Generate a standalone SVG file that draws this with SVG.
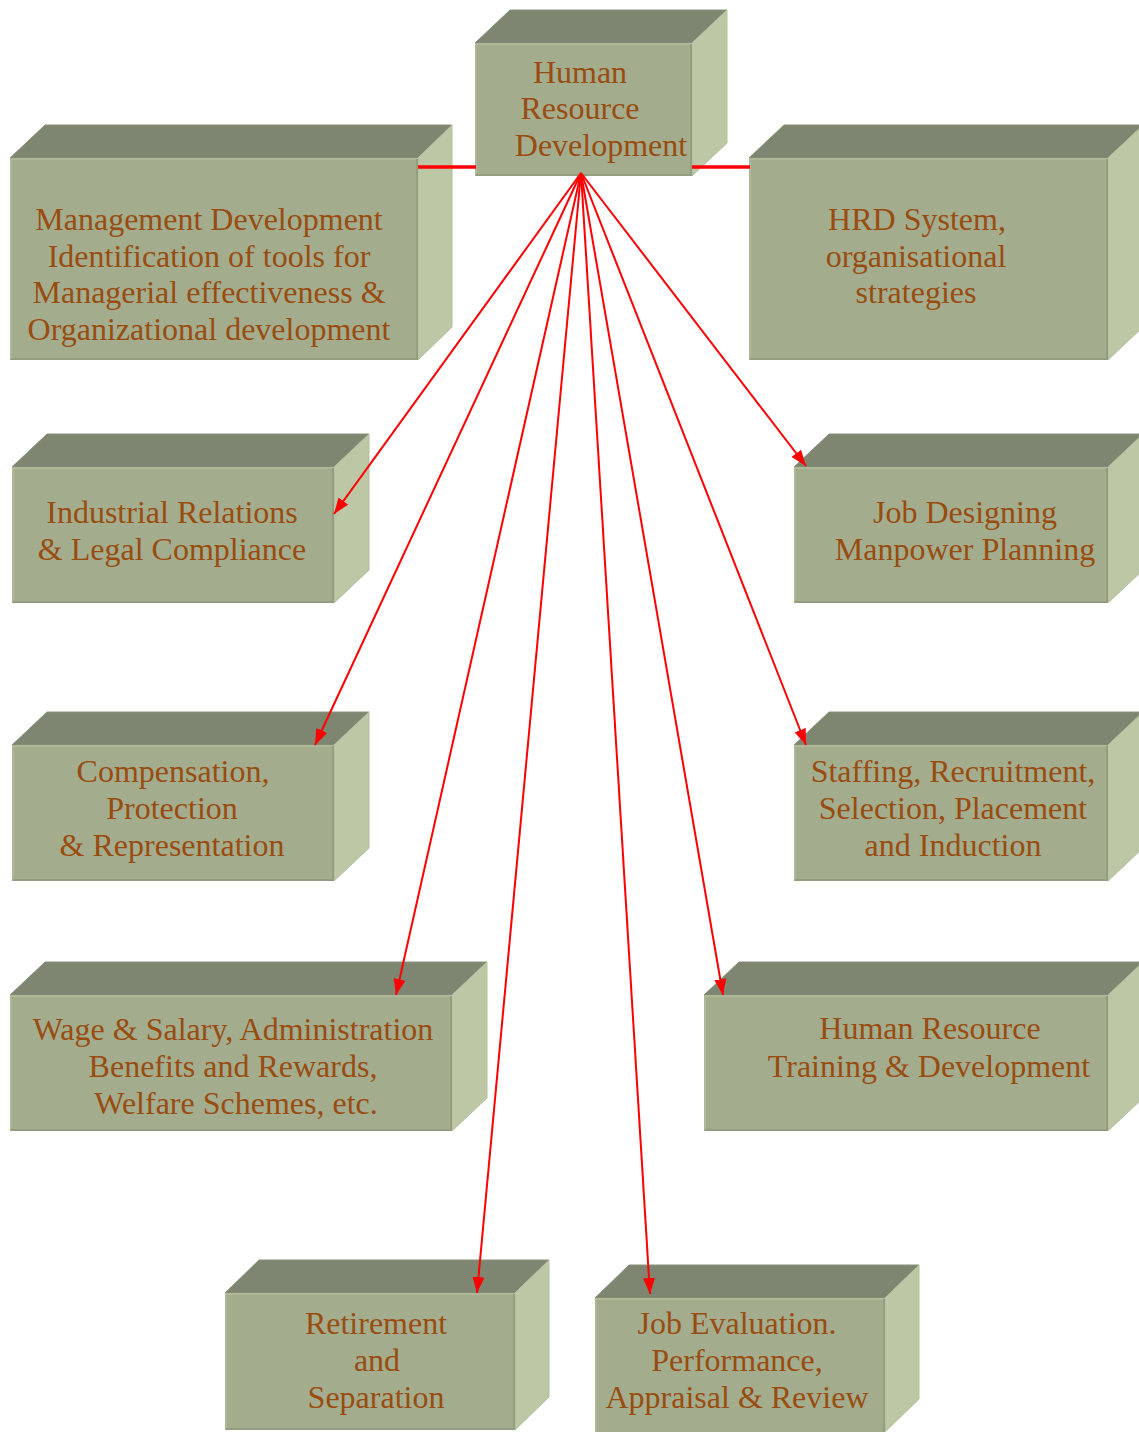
<svg xmlns="http://www.w3.org/2000/svg" width="1139" height="1432" viewBox="0 0 1139 1432">
  <defs>
    <style>
      .top { fill: #7e8570; stroke: #8a9179; stroke-width: 1; }
      .side { fill: #bcc7a5; stroke: #b3be9c; stroke-width: 1; }
      .front { fill: #a3ad8e; }
      .edge-lo { stroke: #939e80; stroke-width: 2; fill: none; }
      .edge-hi { stroke: #b2bc9d; stroke-width: 1.5; fill: none; }
      .label { font-family: "Liberation Serif", "Times New Roman", serif; font-size: 32px; fill: #994c10; text-anchor: middle; }
      .link { stroke: #ff0000; stroke-width: 2; fill: none; }
      .bar { stroke: #ff0000; stroke-width: 3.5; fill: none; }
    </style>
    <marker id="arrow" markerUnits="userSpaceOnUse" markerWidth="16" markerHeight="12" refX="16" refY="6" orient="auto">
      <path d="M0,0 L16,6 L0,12 z" fill="#ff0000"/>
    </marker>
  </defs>

  <rect width="1139" height="1432" fill="#ffffff"/>

  <!-- central node -->
  <g id="node-hrd">
    <polygon class="top" points="475,43 510,10 727,10 692,43"/>
    <polygon class="side" points="692,43 727,10 727,143 692,176"/>
    <rect class="front" x="475" y="43" width="217" height="133"/>
    <polyline class="edge-hi" points="476,175 476,44 692,44"/>
    <polyline class="edge-lo" points="476,175 691,175 691,44"/>
    <text class="label" x="580" y="83">Human</text>
    <text class="label" x="580" y="119">Resource</text>
    <text class="label" x="601" y="156">Development</text>
  </g>

  <g id="node-management">
    <polygon class="top" points="10,158 45,125 452,125 418,158"/>
    <polygon class="side" points="418,158 452,125 452,327 418,360"/>
    <rect class="front" x="10" y="158" width="408" height="202"/>
    <polyline class="edge-hi" points="11,359 11,159 418,159"/>
    <polyline class="edge-lo" points="11,359 417,359 417,159"/>
    <text class="label" x="209" y="230">Management Development</text>
    <text class="label" x="209" y="267">Identification of tools for</text>
    <text class="label" x="209" y="303">Managerial effectiveness &amp;</text>
    <text class="label" x="209" y="340">Organizational development</text>
  </g>

  <g id="node-hrd-system">
    <polygon class="top" points="749,158 784,125 1143,125 1108,158"/>
    <polygon class="side" points="1108,158 1143,125 1143,327 1108,360"/>
    <rect class="front" x="749" y="158" width="359" height="202"/>
    <polyline class="edge-hi" points="750,359 750,159 1108,159"/>
    <polyline class="edge-lo" points="750,359 1107,359 1107,159"/>
    <text class="label" x="917" y="230">HRD System,</text>
    <text class="label" x="916" y="267">organisational</text>
    <text class="label" x="916" y="303">strategies</text>
  </g>

  <g id="node-industrial">
    <polygon class="top" points="12,467 47,434 369,434 334,467"/>
    <polygon class="side" points="334,467 369,434 369,570 334,603"/>
    <rect class="front" x="12" y="467" width="322" height="136"/>
    <polyline class="edge-hi" points="13,602 13,468 334,468"/>
    <polyline class="edge-lo" points="13,602 333,602 333,468"/>
    <text class="label" x="172" y="523">Industrial Relations</text>
    <text class="label" x="172" y="560">&amp; Legal Compliance</text>
  </g>

  <g id="node-job-design">
    <polygon class="top" points="794,467 829,434 1143,434 1108,467"/>
    <polygon class="side" points="1108,467 1143,434 1143,570 1108,603"/>
    <rect class="front" x="794" y="467" width="314" height="136"/>
    <polyline class="edge-hi" points="795,602 795,468 1108,468"/>
    <polyline class="edge-lo" points="795,602 1107,602 1107,468"/>
    <text class="label" x="965" y="523">Job Designing</text>
    <text class="label" x="965" y="560">Manpower Planning</text>
  </g>

  <g id="node-compensation">
    <polygon class="top" points="12,745 47,712 369,712 334,745"/>
    <polygon class="side" points="334,745 369,712 369,848 334,881"/>
    <rect class="front" x="12" y="745" width="322" height="136"/>
    <polyline class="edge-hi" points="13,880 13,746 334,746"/>
    <polyline class="edge-lo" points="13,880 333,880 333,746"/>
    <text class="label" x="173" y="782">Compensation,</text>
    <text class="label" x="172" y="819">Protection</text>
    <text class="label" x="172" y="856">&amp; Representation</text>
  </g>

  <g id="node-staffing">
    <polygon class="top" points="794,745 829,712 1143,712 1108,745"/>
    <polygon class="side" points="1108,745 1143,712 1143,848 1108,881"/>
    <rect class="front" x="794" y="745" width="314" height="136"/>
    <polyline class="edge-hi" points="795,880 795,746 1108,746"/>
    <polyline class="edge-lo" points="795,880 1107,880 1107,746"/>
    <text class="label" x="953" y="782">Staffing, Recruitment,</text>
    <text class="label" x="953" y="819">Selection, Placement</text>
    <text class="label" x="953" y="856">and Induction</text>
  </g>

  <g id="node-wage">
    <polygon class="top" points="10,995 45,962 487,962 452,995"/>
    <polygon class="side" points="452,995 487,962 487,1098 452,1131"/>
    <rect class="front" x="10" y="995" width="442" height="136"/>
    <polyline class="edge-hi" points="11,1130 11,996 452,996"/>
    <polyline class="edge-lo" points="11,1130 451,1130 451,996"/>
    <text class="label" x="233" y="1040">Wage &amp; Salary, Administration</text>
    <text class="label" x="233" y="1077">Benefits and Rewards,</text>
    <text class="label" x="236" y="1114">Welfare Schemes, etc.</text>
  </g>

  <g id="node-training">
    <polygon class="top" points="704,995 739,962 1143,962 1108,995"/>
    <polygon class="side" points="1108,995 1143,962 1143,1098 1108,1131"/>
    <rect class="front" x="704" y="995" width="404" height="136"/>
    <polyline class="edge-hi" points="705,1130 705,996 1108,996"/>
    <polyline class="edge-lo" points="705,1130 1107,1130 1107,996"/>
    <text class="label" x="930" y="1039">Human Resource</text>
    <text class="label" x="929" y="1077">Training &amp; Development</text>
  </g>

  <g id="node-retirement">
    <polygon class="top" points="225,1293 259,1260 549,1260 515,1293"/>
    <polygon class="side" points="515,1293 549,1260 549,1397 515,1430"/>
    <rect class="front" x="225" y="1293" width="290" height="137"/>
    <polyline class="edge-hi" points="226,1429 226,1294 515,1294"/>
    <polyline class="edge-lo" points="226,1429 514,1429 514,1294"/>
    <text class="label" x="376" y="1334">Retirement</text>
    <text class="label" x="377" y="1371">and</text>
    <text class="label" x="376" y="1408">Separation</text>
  </g>

  <g id="node-job-evaluation">
    <polygon class="top" points="595,1298 629,1265 919,1265 885,1298"/>
    <polygon class="side" points="885,1298 919,1265 919,1399 885,1432"/>
    <rect class="front" x="595" y="1298" width="290" height="134"/>
    <polyline class="edge-hi" points="596,1432 596,1299 885,1299"/>
    <polyline class="edge-lo" points="884,1299 884,1432"/>
    <text class="label" x="737" y="1334">Job Evaluation.</text>
    <text class="label" x="737" y="1371">Performance,</text>
    <text class="label" x="737" y="1408">Appraisal &amp; Review</text>
  </g>

  <!-- connectors, drawn over the boxes -->
  <g id="connectors">
    <line class="bar" x1="418" y1="167" x2="476" y2="167"/>
    <line class="bar" x1="692" y1="167" x2="750" y2="167"/>
    <line class="link" marker-end="url(#arrow)" x1="581" y1="173" x2="334" y2="514"/>
    <line class="link" marker-end="url(#arrow)" x1="581" y1="173" x2="315" y2="745"/>
    <line class="link" marker-end="url(#arrow)" x1="581" y1="173" x2="396" y2="995"/>
    <line class="link" marker-end="url(#arrow)" x1="581" y1="173" x2="477" y2="1293"/>
    <line class="link" marker-end="url(#arrow)" x1="581" y1="173" x2="650" y2="1294"/>
    <line class="link" marker-end="url(#arrow)" x1="581" y1="173" x2="723" y2="995"/>
    <line class="link" marker-end="url(#arrow)" x1="581" y1="173" x2="806" y2="745"/>
    <line class="link" marker-end="url(#arrow)" x1="581" y1="173" x2="806" y2="466"/>
  </g>
</svg>
